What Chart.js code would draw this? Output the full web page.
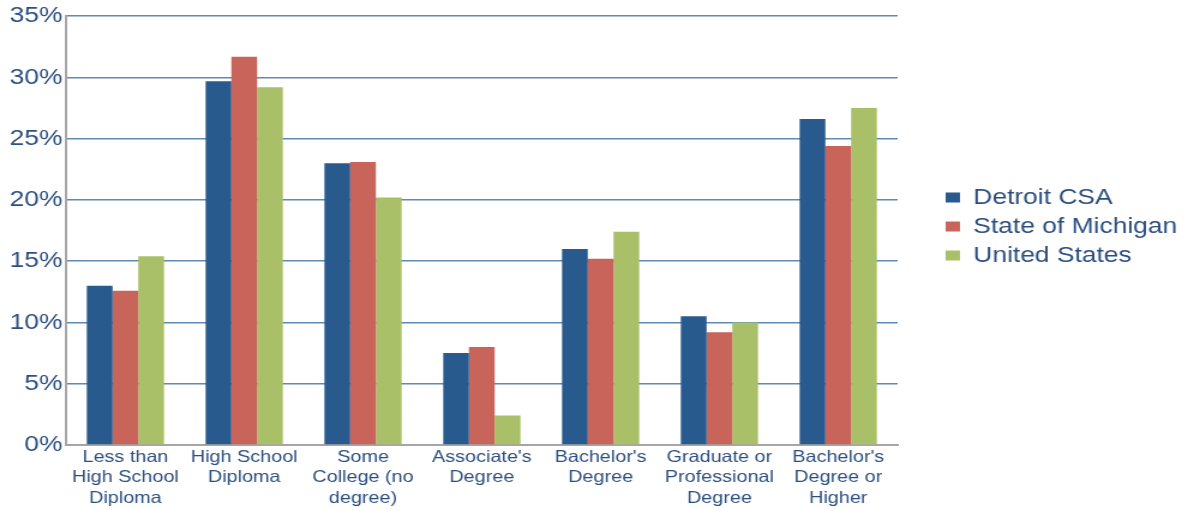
<!DOCTYPE html>
<html>
<head>
<meta charset="utf-8">
<script src="https://cdn.jsdelivr.net/npm/chart.js@4/dist/chart.umd.min.js"></script>
<style>
  html, body { margin: 0; padding: 0; background: #ffffff; overflow: hidden; }
  #wrap { position: absolute; left: 0; top: 0; width: 991px; height: 510px; transform: scaleX(1.2); transform-origin: 0 0; }
</style>
</head>
<body>
<div id="wrap"><canvas id="c"></canvas></div>
<script>
const categories = [
  ["Less than", "High School", "Diploma"],
  ["High School", "Diploma"],
  ["Some", "College (no", "degree)"],
  ["Associate's", "Degree"],
  ["Bachelor's", "Degree"],
  ["Graduate or", "Professional", "Degree"],
  ["Bachelor's", "Degree or", "Higher"]
];
const seriesNames = ["Detroit CSA", "State of Michigan", "United States"];
const detroit = [13.0, 29.7, 23.0, 7.5, 16.0, 10.5, 26.6];
const michigan = [12.6, 31.7, 23.1, 8.0, 15.2, 9.2, 24.4];
const unitedStates = [15.4, 29.2, 20.2, 2.4, 17.4, 10.0, 27.5];
const yTickStep = 5;
const yMax = 35;

const textColor = '#2c4f7f';
const fontFamily = '"Liberation Sans", Arial, sans-serif';
const LEGEND_GAP = 33;
const LEGEND_LIFT = 4;

const legendGap = {
  id: 'legendGap',
  beforeLayout(chart) {
    const lg = chart.legend;
    if (lg && !lg._gapWrapped) {
      const f = lg.fit;
      lg.fit = function () { f.call(this); this.width += LEGEND_GAP; };
      lg._gapWrapped = true;
    }
  },
  afterLayout(chart) {
    if (chart.legend) {
      chart.legend.left += LEGEND_GAP;
      chart.legend.top -= LEGEND_LIFT;
      chart.legend.bottom -= LEGEND_LIFT;
    }
  }
};

new Chart(document.getElementById('c'), {
  type: 'bar',
  data: {
    labels: categories,
    datasets: [
      { label: seriesNames[0], data: detroit, backgroundColor: '#285a8e' },
      { label: seriesNames[1], data: michigan, backgroundColor: '#c9645a' },
      { label: seriesNames[2], data: unitedStates, backgroundColor: '#a9c068' }
    ]
  },
  plugins: [legendGap],
  options: {
    responsive: true,
    maintainAspectRatio: false,
    animation: false,
    datasets: { bar: { categoryPercentage: 0.65, barPercentage: 1.0 } },
    layout: { padding: { top: 16, bottom: 0, left: 0, right: 0 } },
    plugins: {
      legend: {
        position: 'right',
        align: 'center',
        fullSize: false,
        labels: {
          color: textColor,
          font: { family: fontFamily, size: 22 },
          boxWidth: 12,
          boxHeight: 10,
          padding: 7
        }
      },
      tooltip: { enabled: false }
    },
    scales: {
      x: {
        grid: { display: false, drawTicks: false },
        border: { display: true, color: '#a6a6a6', width: 2 },
        ticks: {
          color: textColor,
          font: { family: fontFamily, size: 16.5, lineHeight: 1.24 },
          maxRotation: 0,
          autoSkip: false,
          padding: 2
        },
        afterFit(s) { s.height = 65; }
      },
      y: {
        min: 0,
        max: yMax,
        ticks: {
          stepSize: yTickStep,
          color: textColor,
          font: { family: fontFamily, size: 22 },
          padding: 3,
          callback: v => v + '%'
        },
        grid: { color: '#6089b4', lineWidth: 1.5, drawTicks: false },
        border: { display: true, color: '#a6a6a6', width: 2 },
        afterFit(s) { s.width = 55; }
      }
    }
  }
});
</script>
</body>
</html>
